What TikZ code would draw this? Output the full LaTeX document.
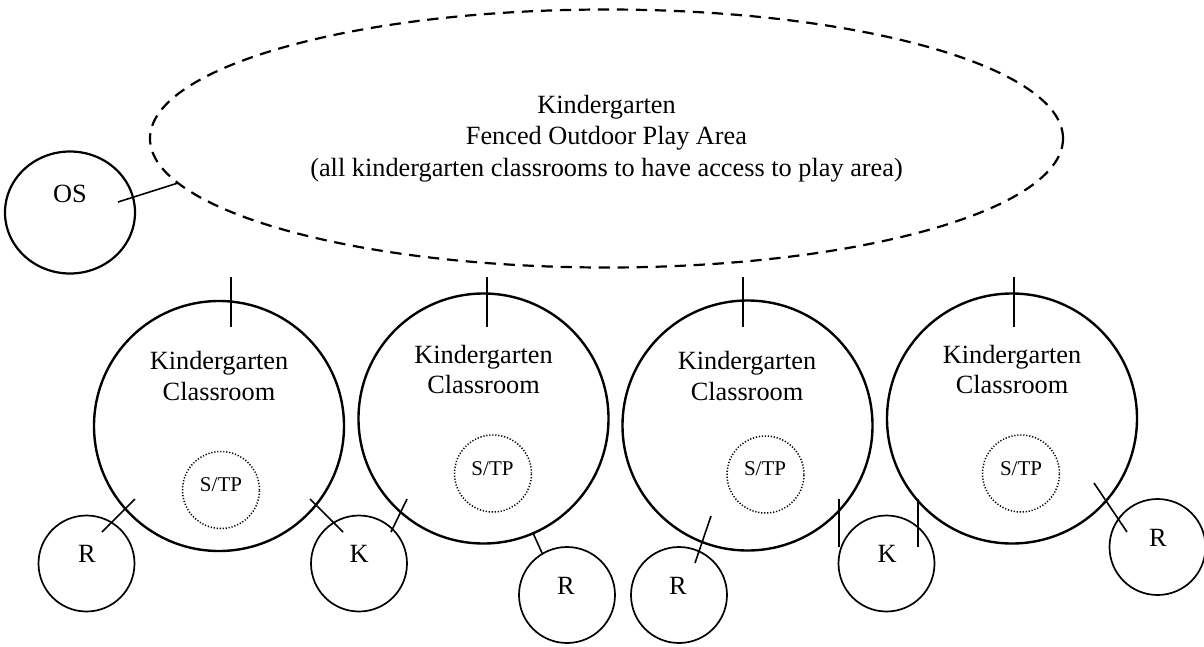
\documentclass[tikz,border=0pt]{standalone}
\usepackage{fontspec}
\setmainfont{Liberation Serif}
\usetikzlibrary{shapes.geometric}
\begin{document}
\begin{tikzpicture}[x=1pt,y=-1pt,
  room/.style={circle,draw,line width=2.4pt,minimum size=250pt,inner sep=0pt},
  smallroom/.style={circle,draw,line width=1.7pt,minimum size=96pt,inner sep=0pt},
  stp/.style={circle,draw,line width=1.5pt,dash pattern=on 1.2pt off 1.8pt,minimum size=77pt,inner sep=0pt},
  lbl/.style={anchor=base,inner sep=0pt,font=\fontsize{26.3}{31.5}\selectfont},
  slbl/.style={anchor=base,inner sep=0pt,font=\fontsize{21}{25}\selectfont},
  link/.style={line width=1.6pt}]
\useasboundingbox (0,0) rectangle (1204,646);

% play area
\node[ellipse,draw,line width=2.2pt,dash pattern=on 11.3pt off 7.7pt,
  minimum width=913pt,minimum height=258pt,inner sep=0pt,align=center,
  font=\fontsize{26.3}{31.5}\selectfont] (play) at (606.5,138.5)
  {Kindergarten\\Fenced Outdoor Play Area\\(all kindergarten classrooms to have access to play area)};

% OS
\node[ellipse,draw,line width=2.2pt,minimum width=130pt,minimum height=122pt,inner sep=0pt] (os) at (70,212.5) {};
\node[lbl] (ost) at (70,202) {OS};

% classrooms
\node[room] (c1) at (219,426) {};
\node[room] (c2) at (483.5,418.5) {};
\node[room] (c3) at (747.5,425.5) {};
\node[room] (c4) at (1012,418.5) {};

\node[lbl] (c1a) at (219,369) {Kindergarten};
\node[lbl] (c1b) at (219,400) {Classroom};
\node[lbl] (c2a) at (483.5,363) {Kindergarten};
\node[lbl] (c2b) at (483.5,393.5) {Classroom};
\node[lbl] (c3a) at (747,369) {Kindergarten};
\node[lbl] (c3b) at (747,400) {Classroom};
\node[lbl] (c4a) at (1012,363) {Kindergarten};
\node[lbl] (c4b) at (1012,393.5) {Classroom};

% S/TP
\node[stp] (s1) at (221,490) {};
\node[stp] (s2) at (493,473.5) {};
\node[stp] (s3) at (765.5,474.5) {};
\node[stp] (s4) at (1021,473.5) {};
\node[slbl] (s1t) at (221,491) {S/TP};
\node[slbl] (s2t) at (492.5,475) {S/TP};
\node[slbl] (s3t) at (765,475) {S/TP};
\node[slbl] (s4t) at (1021,475) {S/TP};

% small rooms
\node[smallroom] (r1) at (86.5,563.5) {};
\node[smallroom] (k1) at (359,563.5) {};
\node[smallroom] (r2) at (567,595) {};
\node[smallroom] (r3) at (679,595) {};
\node[smallroom] (k2) at (886.5,563.5) {};
\node[smallroom] (r4) at (1157.5,547) {};
\node[lbl] (r1t) at (87,562) {R};
\node[lbl] (k1t) at (359,562) {K};
\node[lbl] (r2t) at (566,594) {R};
\node[lbl] (r3t) at (678,594) {R};
\node[lbl] (k2t) at (887,562) {K};
\node[lbl] (r4t) at (1158,546) {R};

% connector end points
\coordinate (osA) at (118,202);  \coordinate (osB) at (178,183);
\coordinate (t1A) at (231,277);  \coordinate (t1B) at (231,327);
\coordinate (t2A) at (487,277);  \coordinate (t2B) at (487,327);
\coordinate (t3A) at (743,277);  \coordinate (t3B) at (743,327);
\coordinate (t4A) at (1014,277); \coordinate (t4B) at (1014,327);
\coordinate (r1A) at (102,532);  \coordinate (r1B) at (135,499);
\coordinate (k1A) at (310,499);  \coordinate (k1B) at (343,532);
\coordinate (k1C) at (391,532);  \coordinate (k1D) at (407,499);
\coordinate (r2A) at (533,533);  \coordinate (r2B) at (542,553);
\coordinate (r3A) at (695,563);  \coordinate (r3B) at (711,516);
\coordinate (k2A) at (839,499);  \coordinate (k2B) at (839,547);
\coordinate (k2C) at (918,499);  \coordinate (k2D) at (918,547);
\coordinate (r4A) at (1094,483); \coordinate (r4B) at (1127,532);

\draw[link] (osA) -- (osB);
\draw[link] (t1A) -- (t1B);
\draw[link] (t2A) -- (t2B);
\draw[link] (t3A) -- (t3B);
\draw[link] (t4A) -- (t4B);
\draw[link] (r1A) -- (r1B);
\draw[link] (k1A) -- (k1B);
\draw[link] (k1C) -- (k1D);
\draw[link] (r2A) -- (r2B);
\draw[link] (r3A) -- (r3B);
\draw[link] (k2A) -- (k2B);
\draw[link] (k2C) -- (k2D);
\draw[link] (r4A) -- (r4B);
\end{tikzpicture}
\end{document}
